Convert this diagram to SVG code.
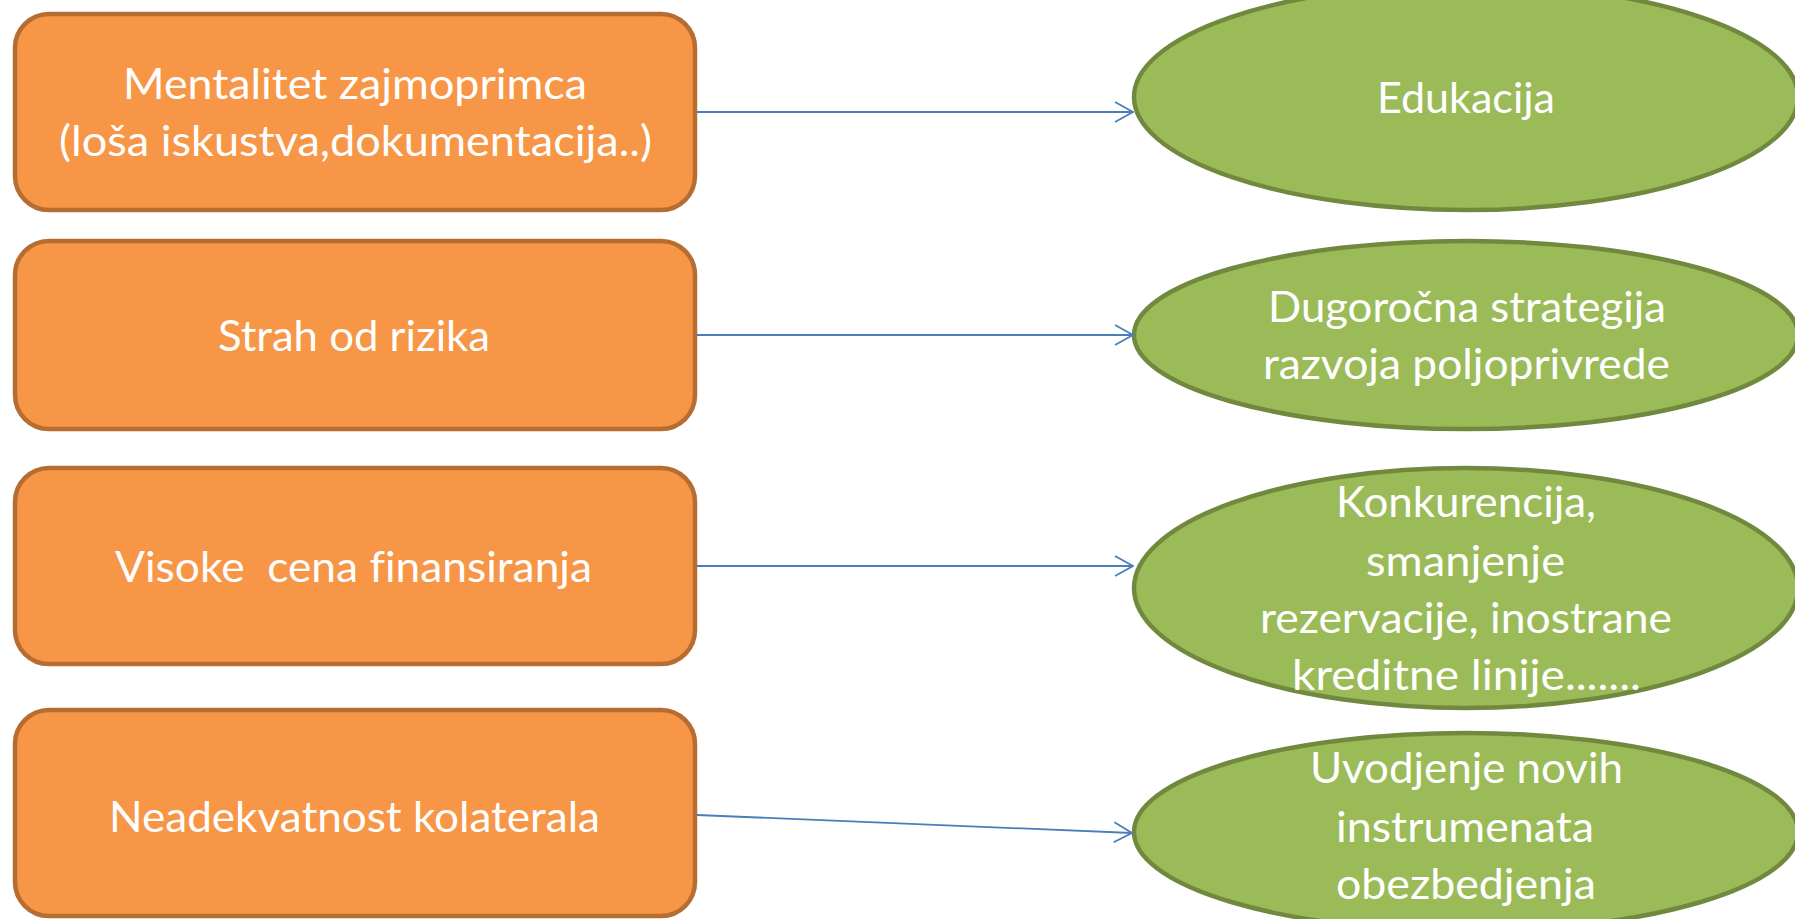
<svg xmlns="http://www.w3.org/2000/svg" width="1795" height="919" viewBox="0 0 1795 919">
<style>
.box{fill:#F79646;stroke:#B66D31;stroke-width:4.5}
.ell{fill:#9BBB59;stroke:#71893F;stroke-width:4.5}
.t{font-family:Lato,"Open Sans","Liberation Sans",sans-serif;font-size:42px;fill:#FFFFFF;text-anchor:middle;font-variant-ligatures:none;font-feature-settings:"liga" 0,"clig" 0,"dlig" 0}
.c{stroke:#4A7EBB;stroke-width:1.8;fill:none}
</style>
<defs>
<marker id="arr" viewBox="0 0 20 24" refX="19" refY="12" markerWidth="20" markerHeight="24" markerUnits="userSpaceOnUse" orient="auto">
<path d="M1,2 L19,12 L1,22" fill="none" stroke="#4A7EBB" stroke-width="1.8"/>
</marker>
</defs>
<rect width="1795" height="919" fill="#FFFFFF"/>
<g id="b1">
<rect class="box" x="15" y="14" width="680" height="196" rx="34" ry="34"/>
<text class="t" x="355" y="99" textLength="464" lengthAdjust="spacingAndGlyphs">Mentalitet zajmoprimca</text>
<text class="t" x="355.5" y="156" textLength="593" lengthAdjust="spacingAndGlyphs">(loša iskustva,dokumentacija..)</text>
</g>
<g id="b2">
<rect class="box" x="15" y="241" width="680" height="188" rx="34" ry="34"/>
<text class="t" x="354" y="351" textLength="272" lengthAdjust="spacingAndGlyphs">Strah od rizika</text>
</g>
<g id="b3">
<rect class="box" x="15" y="468" width="680" height="196" rx="34" ry="34"/>
<text class="t" x="353.5" y="582" textLength="477" lengthAdjust="spacingAndGlyphs" xml:space="preserve">Visoke  cena finansiranja</text>
</g>
<g id="b4">
<rect class="box" x="15" y="710" width="680" height="206" rx="34" ry="34"/>
<text class="t" x="354.5" y="832" textLength="491" lengthAdjust="spacingAndGlyphs">Neadekvatnost kolaterala</text>
</g>
<g id="e1">
<ellipse class="ell" cx="1466" cy="97" rx="332" ry="113"/>
<text class="t" x="1466" y="113" textLength="178" lengthAdjust="spacingAndGlyphs">Edukacija</text>
</g>
<g id="e2">
<ellipse class="ell" cx="1466" cy="335" rx="332" ry="94"/>
<text class="t" x="1467" y="322" textLength="398" lengthAdjust="spacingAndGlyphs">Dugoročna strategija</text>
<text class="t" x="1466.5" y="379" textLength="407" lengthAdjust="spacingAndGlyphs">razvoja poljoprivrede</text>
</g>
<g id="e3">
<ellipse class="ell" cx="1466" cy="588" rx="332" ry="120"/>
<text class="t" x="1466" y="517" textLength="260" lengthAdjust="spacingAndGlyphs">Konkurencija,</text>
<text class="t" x="1465.5" y="576" textLength="199" lengthAdjust="spacingAndGlyphs">smanjenje</text>
<text class="t" x="1466" y="633" textLength="412" lengthAdjust="spacingAndGlyphs">rezervacije, inostrane</text>
<text class="t" x="1466.5" y="690" textLength="349" lengthAdjust="spacingAndGlyphs">kreditne linije.......</text>
</g>
<g id="e4">
<ellipse class="ell" cx="1466" cy="832" rx="332" ry="99"/>
<text class="t" x="1466.5" y="783" textLength="313" lengthAdjust="spacingAndGlyphs">Uvodjenje novih</text>
<text class="t" x="1465" y="842" textLength="258" lengthAdjust="spacingAndGlyphs">instrumenata</text>
<text class="t" x="1466" y="899" textLength="260" lengthAdjust="spacingAndGlyphs">obezbedjenja</text>
</g>
<g id="connectors">
<line class="c" x1="697" y1="112" x2="1133" y2="112" marker-end="url(#arr)"/>
<line class="c" x1="697" y1="335" x2="1133" y2="335" marker-end="url(#arr)"/>
<line class="c" x1="697" y1="566" x2="1133" y2="566" marker-end="url(#arr)"/>
<line class="c" x1="697" y1="815" x2="1132" y2="833" marker-end="url(#arr)"/>
</g>
</svg>
